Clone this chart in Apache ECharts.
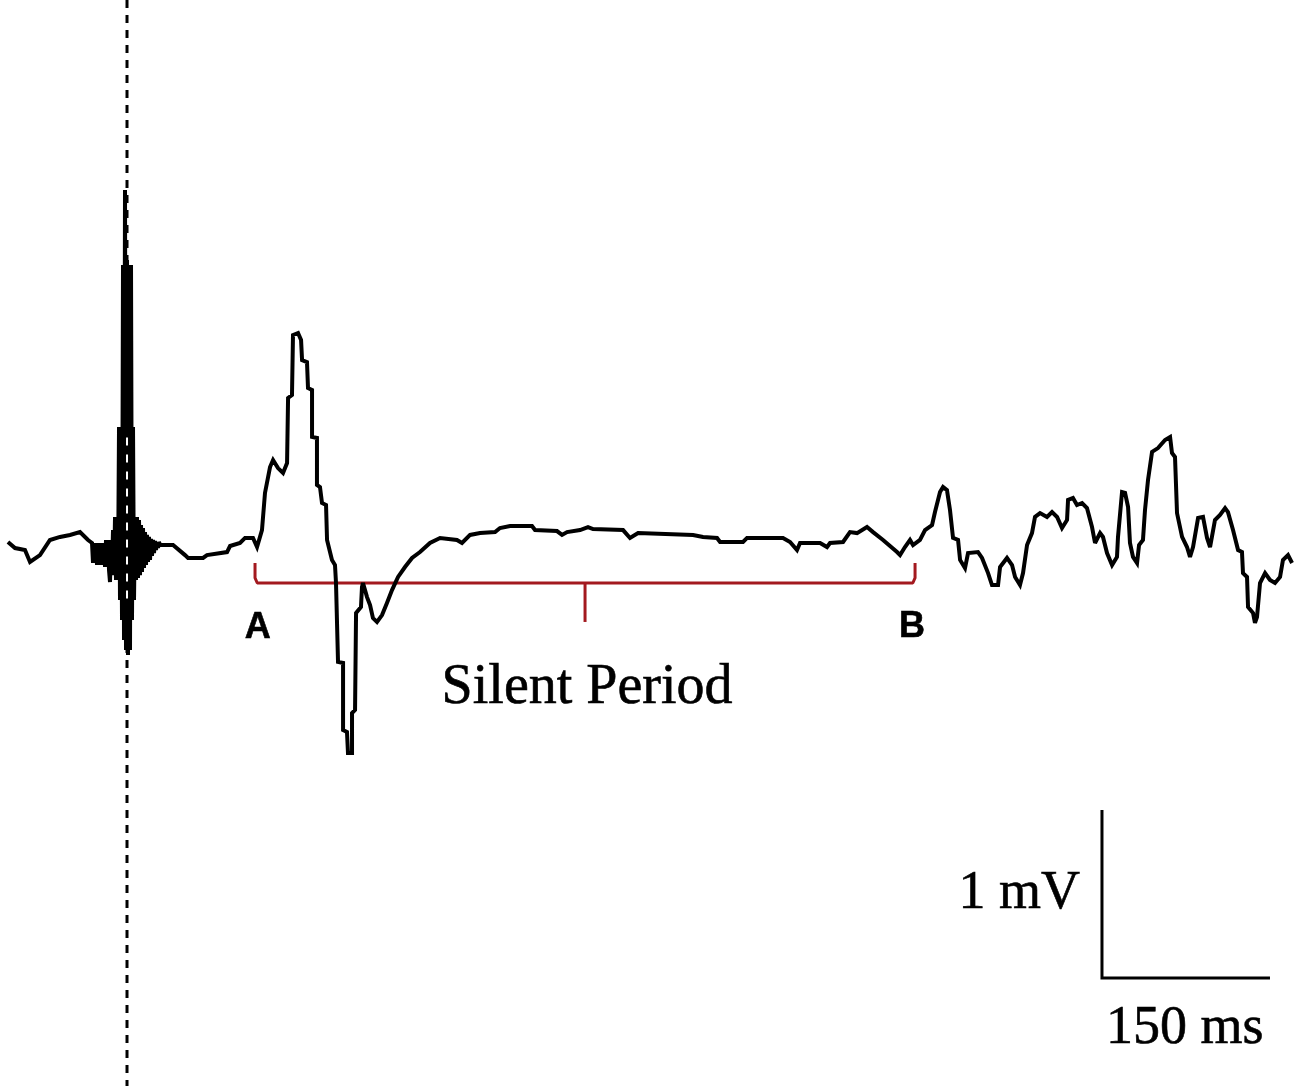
<!DOCTYPE html>
<html>
<head>
<meta charset="utf-8">
<script src="https://cdn.jsdelivr.net/npm/echarts@6/dist/echarts.min.js"></script>
<style>
html,body{margin:0;padding:0;background:#fff;}
#chart{width:1300px;height:1086px;}
</style>
</head>
<body>
<div id="chart"></div>
<script>
// EMG trace: time (ms, stimulus at 0) and amplitude (mV)
const timeMs = [
-106.3,-100.0,-91.1,-86.6,-77.7,-68.8,-59.8,-50.9,-42.0,-34.8,
-31.25,-30.36,-29.46,-28.57,-27.68,-26.79,-25.89,-25.0,-24.11,-23.21,-22.32,-21.43,-20.54,-19.64,-18.75,-17.86,-16.96,-16.07,-15.18,-14.29,-13.39,-12.5,-11.61,-10.71,-9.82,-8.93,-8.04,-7.14,-6.25,-5.36,-4.46,-3.57,-2.68,-1.79,-0.89,0,0.89,1.79,2.68,3.57,4.46,5.36,6.25,7.14,8.04,8.93,9.82,10.71,11.61,12.5,13.39,14.29,15.18,16.07,16.96,17.86,18.75,19.64,20.54,21.43,22.32,23.21,24.11,25.0,25.89,26.79,27.68,28.57,29.46,
41.1,51.8,54.5,67.9,71.4,89.3,92.0,100.9,105.4,112.5,116.1,
120.5,123.2,127.7,130.4,134.8,139.3,142.9,143.8,147.3,148.2,152.7,155.4,156.3,160.7,161.6,165.2,165.2,169.6,169.6,172.3,174.1,177.7,178.6,
183.0,185.7,186.6,188.4,192.9,192.9,196.4,197.3,200.9,200.9,203.6,204.5,208.9,209.8,210.7,214.3,217.0,219.6,223.2,227.7,232.1,236.6,242.0,248.2,254.5,261.6,270.5,279.5,
294.6,299.1,306.3,315.2,328.6,333.0,342.0,361.6,364.3,383.9,388.4,392.9,404.5,411.6,416.1,442.9,449.1,456.3,505.4,514.3,526.8,529.5,550.0,553.6,585.7,592.0,598.2,600.9,618.8,625.0,627.7,639.3,645.5,651.8,660.7,666.1,675.0,687.5,690.2,694.6,699.1,701.8,708.0,
712.5,718.8,721.4,725.9,728.6,732.1,734.8,737.5,742.0,743.8,748.2,750.9,759.8,763.4,768.8,772.3,777.7,779.5,785.7,790.2,792.9,797.3,800.0,803.6,808.0,810.7,815.2,821.4,825.9,830.4,834.8,839.3,840.2,844.6,848.2,852.7,857.1,861.6,864.3,868.8,871.4,875.0,879.5,883.9,884.8,888.4,891.1,893.8,895.5,898.2,901.8,903.6,907.1,908.9,911.6,915.2,920.5,926.8,931.3,933.0,935.7,937.5,942.0,946.4,949.1,951.8,956.3,960.7,964.3,967.0,971.4,975.9,980.4,983.0,987.5,992.0,995.5,996.4,1000.0,1000.9,1005.4,1007.1,1008.9,1011.6,1016.1,1020.5,1025.0,1029.5,1032.1,1036.6,1040.2
];
const ampMv = [
0.018,-0.018,-0.030,-0.101,-0.060,0.030,0.048,0.060,0.077,0.030,
0.012,-0.107,0.012,-0.107,0.012,-0.119,0.012,-0.107,0.012,-0.119,0.012,-0.107,0.012,-0.131,0.030,-0.131,0.030,-0.149,-0.220,0.030,-0.149,0.089,-0.179,0.167,-0.208,0.167,-0.208,0.702,-0.327,0.702,-0.446,1.667,-0.565,2.113,-0.625,1.696,-0.655,1.667,-0.625,1.667,-0.446,0.702,-0.327,0.167,-0.208,0.167,-0.196,0.149,-0.179,0.119,-0.161,0.101,-0.137,0.077,-0.119,0.060,-0.101,0.048,-0.089,0.036,-0.065,0.030,-0.048,0.024,-0.030,0.018,-0.018,0.018,0,
0,-0.060,-0.077,-0.077,-0.060,-0.042,-0.006,0.012,0.042,0.042,-0.012,
0.089,0.310,0.464,0.506,0.458,0.429,0.488,0.875,0.893,1.250,1.262,1.220,1.101,1.089,0.935,0.923,0.643,0.637,0.357,0.345,0.250,0.238,0.030,
-0.089,-0.119,-0.226,-0.696,-0.702,-1.101,-1.113,-1.238,-1.238,-1.000,-0.982,-0.405,-0.369,-0.250,-0.226,-0.310,-0.357,-0.435,-0.458,-0.417,-0.345,-0.268,-0.190,-0.131,-0.077,-0.042,0.012,0.042,
0.030,0.012,0.060,0.071,0.077,0.101,0.113,0.113,0.089,0.083,0.060,0.077,0.089,0.107,0.095,0.089,0.042,0.071,0.060,0.048,0.042,0.018,0.018,0.042,0.042,0.018,-0.030,0.012,0.012,-0.012,0.012,0.018,0.077,0.071,0.107,0.077,0.030,-0.042,-0.060,-0.012,0.030,0,0.030,
0.089,0.119,0.196,0.315,0.345,0.327,0.208,0.042,0.030,-0.089,-0.137,-0.048,-0.042,-0.077,-0.167,-0.238,-0.238,-0.131,-0.077,-0.119,-0.190,-0.238,-0.167,0,0.071,0.167,0.190,0.167,0.196,0.167,0.101,0.149,0.268,0.280,0.238,0.250,0.220,0.107,0.012,0.071,0.048,-0.048,-0.119,-0.071,0.048,0.315,0.310,0.226,0.012,-0.071,-0.107,0,0.030,0.208,0.387,0.554,0.577,0.625,0.643,0.548,0.524,0.190,0.048,-0.012,-0.071,-0.012,0.161,0.167,0.042,-0.012,0.149,0.179,0.220,0.196,0.089,-0.030,-0.042,-0.167,-0.190,-0.369,-0.405,-0.464,-0.429,-0.226,-0.167,-0.208,-0.226,-0.190,-0.089,-0.060,-0.107
];

// Silent period bracket (A to B), ms
const silentStart = 114.3;
const silentEnd = 703.6;
const bracketTopMv = -0.107;
const bracketMv = -0.226;
const bracketTipMv = -0.458;

// Scale bar: 150 ms by 1 mV
const scaleBarMs = 150;
const scaleBarMv = 1;
const scaleOrigin = [870.5, -2.577];

const labels = {
  a: 'A', b: 'B', silent: 'Silent Period', mv: '1 mV', ms: '150 ms'
};

const X_MIN = -113.4, X_MAX = 1047.3, Y_MIN = -3.220, Y_MAX = 3.244;

const trace = timeMs.map((t, i) => [t, ampMv[i]]);

const chart = echarts.init(document.getElementById('chart'), null, {renderer: 'canvas'});
const red = '#a3191f';
const serif = '"Liberation Serif", "Times New Roman", serif';
const sans = '"Liberation Sans", Arial, sans-serif';

const bracket = [
  [silentStart, bracketTopMv], [silentStart, bracketMv + 0.03], [silentStart + 2, bracketMv],
  [silentEnd - 2, bracketMv], [silentEnd, bracketMv + 0.03], [silentEnd, bracketTopMv]
];
const mid = (silentStart + silentEnd) / 2;

function lbl(text, family, size, weight, align) {
  return {show: true, formatter: text, fontFamily: family, fontSize: size, fontWeight: weight,
          color: '#000', opacity: 1, textBorderColor: '#000', textBorderWidth: 0.6,
          align: align, verticalAlign: 'middle', position: 'inside'};
}

chart.setOption({
  animation: false,
  backgroundColor: '#ffffff',
  grid: {left: 0, right: 0, top: 0, bottom: 0},
  xAxis: {type: 'value', min: X_MIN, max: X_MAX, show: false},
  yAxis: {type: 'value', min: Y_MIN, max: Y_MAX, show: false},
  series: [
    { // stimulus marker
      type: 'line', z: 1, symbol: 'none', silent: true,
      data: [[0, Y_MAX], [0, Y_MIN]],
      lineStyle: {color: '#000', width: 3, type: [8, 7]}
    },
    { // bracket
      type: 'line', z: 2, symbol: 'none', silent: true,
      data: bracket,
      lineStyle: {color: red, width: 3}
    },
    {
      type: 'line', z: 2, symbol: 'none', silent: true,
      data: [[mid, bracketMv], [mid, bracketTipMv]],
      lineStyle: {color: red, width: 3}
    },
    { // EMG trace
      type: 'line', z: 3, symbol: 'none', silent: true,
      data: trace,
      lineStyle: {color: '#000', width: 4, join: 'miter', miterLimit: 3}
    },
    { // dashed marker seen through the artifact
      type: 'line', z: 4, symbol: 'none', silent: true,
      data: [[0, 0.64], [0, -0.33]],
      lineStyle: {color: '#fff', width: 2, type: [8, 9]}
    },
    { // scale bar
      type: 'line', z: 2, symbol: 'none', silent: true,
      data: [[scaleOrigin[0], scaleOrigin[1] + scaleBarMv], scaleOrigin, [scaleOrigin[0] + scaleBarMs, scaleOrigin[1]]],
      lineStyle: {color: '#000', width: 3, join: 'miter'}
    },
    { // text labels
      type: 'scatter', z: 5, symbolSize: 1, silent: true,
      itemStyle: {color: 'rgba(0,0,0,0)'},
      data: [
        {value: [silentStart + 2.5, -0.494], label: lbl(labels.a, sans, 36, 'bold', 'center')},
        {value: [silentEnd - 2.7, -0.488], label: lbl(labels.b, sans, 36, 'bold', 'center')},
        {value: [mid + 1.8, -0.851], label: lbl(labels.silent, serif, 56, 'normal', 'center')},
        {value: [scaleOrigin[0] - 19.6, scaleOrigin[1] + scaleBarMv / 2], label: lbl(labels.mv, serif, 54, 'normal', 'right')},
        {value: [scaleOrigin[0] + 74, scaleOrigin[1] - 0.304], label: lbl(labels.ms, serif, 54, 'normal', 'center')}
      ]
    }
  ]
});
</script>
</body>
</html>
